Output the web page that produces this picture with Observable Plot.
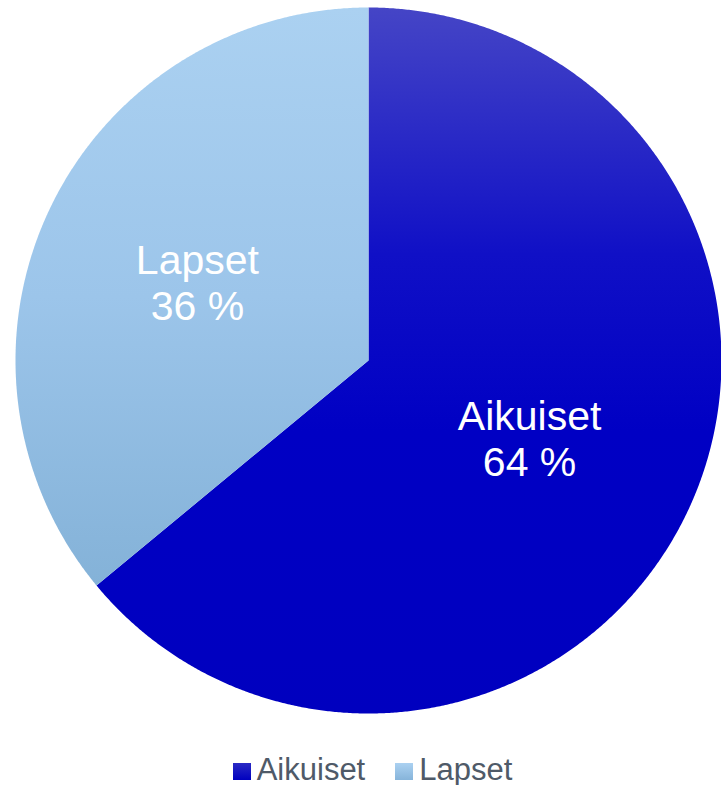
<!DOCTYPE html>
<html>
<head>
<meta charset="utf-8">
<script src="https://cdn.jsdelivr.net/npm/d3@7"></script>
<script src="https://cdn.jsdelivr.net/npm/@observablehq/plot@0.6"></script>
<style>
  html, body { margin: 0; padding: 0; background: #fff; }
  #chart svg { display: block; }
  .legend { display: flex; justify-content: center; align-items: flex-end; margin-top: 14px; padding-left: 24px; line-height: 1; height: 31px;
            font-family: "Liberation Sans", Arial, sans-serif; font-size: 31px; color: #4f5a68; }
  .legend .item { display: flex; align-items: flex-end; margin: 0 15px; }
  .legend .sw { width: 18px; height: 17px; margin-right: 6px; margin-bottom: 5px; }
</style>
</head>
<body>
<div id="chart"></div>
<script>
const categories = ["Aikuiset", "Lapset"];
const values = [64, 36];
const labels = ["Aikuiset\n64 %", "Lapset\n36 %"];

const gradients = {
  Aikuiset: [["0%", "#4545c6"], ["35%", "#1010c6"], ["60%", "#0000c4"], ["100%", "#0000bf"]],
  Lapset: [["0%", "#abd1f1"], ["50%", "#9cc5ea"], ["100%", "#84b2d8"]]
};
const ids = {Aikuiset: "gA", Lapset: "gL"};

const pie = d3.pie().sort(null).value(d => d.value)(categories.map((c, i) => ({key: c, value: values[i], label: labels[i]})));

// polygon points for each slice (unit circle, angle clockwise from top)
const pts = [];
for (const s of pie) {
  const n = Math.max(2, Math.ceil((s.endAngle - s.startAngle) / 0.005));
  pts.push({key: s.data.key, x: 0, y: 0});
  for (let i = 0; i <= n; i++) {
    const a = s.startAngle + (s.endAngle - s.startAngle) * i / n;
    pts.push({key: s.data.key, x: Math.sin(a), y: Math.cos(a)});
  }
  pts.push({key: s.data.key, x: 0, y: 0});
}
const lab = pie.map(s => {
  const a = (s.startAngle + s.endAngle) / 2;
  return {label: s.data.label, x: 0.52 * Math.sin(a), y: 0.52 * Math.cos(a)};
});

function defsMark() {
  const defs = d3.create("svg:defs");
  for (const k of categories) {
    const g = defs.append("linearGradient").attr("id", ids[k]).attr("x1", 0).attr("y1", 0).attr("x2", 0).attr("y2", 1);
    for (const [o, c] of gradients[k]) g.append("stop").attr("offset", o).attr("stop-color", c);
  }
  return defs.node();
}

const plot = Plot.plot({
  width: 721,
  height: 740,
  marginLeft: 15,
  marginRight: 0,
  marginTop: 7,
  marginBottom: 27,
  x: {domain: [-1, 1], axis: null},
  y: {domain: [-1, 1], axis: null},
  style: {fontFamily: "Liberation Sans, Arial, sans-serif"},
  marks: [
    defsMark,
    ...categories.map(k => Plot.line(pts.filter(d => d.key === k), {x: "x", y: "y", fill: `url(#${ids[k]})`, stroke: "none", curve: "linear"})),
    Plot.text(lab, {x: "x", y: "y", text: "label", fill: "white", fontSize: 41, lineHeight: 1.12, textAnchor: "middle", dx: -5})
  ]
});
document.getElementById("chart").appendChild(plot);

const legend = document.createElement("div");
legend.className = "legend";
const swatch = {Aikuiset: "linear-gradient(#2a2ac4, #0000bf)", Lapset: "linear-gradient(#abd1f1, #86b4da)"};
for (const k of categories) {
  const it = document.createElement("div");
  it.className = "item";
  it.innerHTML = `<div class="sw" style="background:${swatch[k]}"></div><span>${k}</span>`;
  legend.appendChild(it);
}
document.body.appendChild(legend);
</script>
</body>
</html>
